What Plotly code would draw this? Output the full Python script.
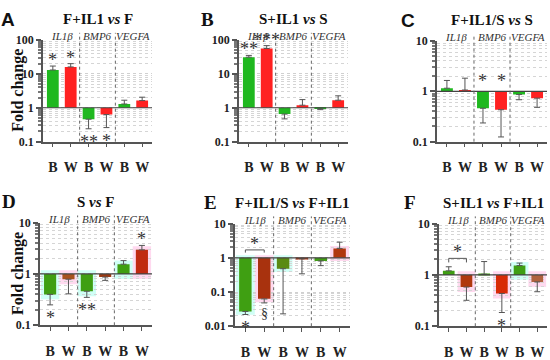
import numpy as np
import plotly.graph_objects as go

# ---------------- data ----------------
categories = ["B", "W", "B", "W", "B", "W"]
genes = ["IL1β", "BMP6", "VEGFA"]

A_val = [13, 16, 0.46, 0.63, 1.29, 1.63]
A_err = [17, 20, 0.24, 0.26, 1.67, 2.05]
A_sig = ["*", "*", "**", "*", "", ""]

B_val = [31, 56, 0.65, 1.19, 0.94, 1.67]
B_err = [35, 68, 0.47, 1.74, 0.88, 2.25]
B_sig = ["**", "***", "", "", "", ""]

C_val = [1.15, 1.06, 0.46, 0.43, 0.865, 0.73]
C_err = [1.64, 1.82, 0.235, 0.124, 0.68, 0.48]
C_sig = ["", "", "*", "*", "", ""]

D_val = [0.40, 0.79, 0.46, 0.87, 1.55, 2.95]
D_err = [0.25, 0.41, 0.35, 0.75, 1.82, 3.6]
D_sig = ["*", "", "**", "", "", "*"]

E_val = [0.027, 0.063, 0.48, 0.94, 0.81, 1.88]
E_err = [0.022, 0.048, 0.023, 0.34, 0.59, 2.86]
E_sig = ["*", "§", "", "", "", ""]

F_val = [1.2, 0.58, 1.03, 0.435, 1.52, 0.73]
F_err = [1.44, 0.32, 1.82, 0.185, 1.7, 0.47]
F_sig = ["", "", "", "*", "", ""]

# ---------------- style / layout ----------------
W, H = 550, 360
SERIF = "Liberation Serif"
SANS = "Liberation Sans"

G1, R1 = "#1fb81f", "#ff2121"
G2, R2 = "#3f9f12", "#a8320e"

panels = [
    dict(letter="A", lfont=SANS, lx=8, title="F+IL1 <i>vs</i> F", vals=A_val, errs=A_err, sig=A_sig,
         px=(43, 152), py=(35, 143), rng=(-1, 2), ticks=[0.1, 1, 10, 100], ytitle=True,
         colors=[G1, R1] * 3, hl=[], sig_base=False, bracket=None),
    dict(letter="B", lfont=SERIF, lx=207, title="S+IL1 <i>vs</i> S", vals=B_val, errs=B_err, sig=B_sig,
         px=(239, 348), py=(35, 143), rng=(-1, 2), ticks=[0.1, 1, 10, 100], ytitle=False,
         colors=[G1, R1] * 3, hl=[], sig_base=False, bracket=None),
    dict(letter="C", lfont=SANS, lx=408, title="F+IL1/S <i>vs</i> S", vals=C_val, errs=C_err, sig=C_sig,
         px=(437, 547), py=(36, 143), rng=(-1, 1), ticks=[0.1, 1, 10], ytitle=False,
         colors=[G1, R1] * 3, hl=[], sig_base=True, bracket=None),
    dict(letter="D", lfont=SERIF, lx=9, title="S <i>vs</i> F", vals=D_val, errs=D_err, sig=D_sig,
         px=(40, 152), py=(229, 338), rng=(-1, 1), ticks=[0.1, 1, 10], ytitle=True,
         colors=[G2, "#a8521e", G2, "#9c3a12", G2, "#c02a10"],
         hl=[0, 1, 2, 4, 5], sig_base=False, bracket=None),
    dict(letter="E", lfont=SERIF, lx=210, title="F+IL1/S <i>vs</i> F+IL1", vals=E_val, errs=E_err, sig=E_sig,
         px=(235, 350), py=(230, 339), rng=(-2, 1), ticks=[0.01, 0.1, 1, 10], ytitle=False,
         colors=[G2, R2, "#5a8a12", R2, G2, "#b0380e"],
         hl=[0, 1, 2, 5], sig_base=False, bracket=1.7),
    dict(letter="F", lfont=SERIF, lx=410, title="S+IL1 <i>vs</i> F+IL1", vals=F_val, errs=F_err, sig=F_sig,
         px=(439, 547), py=(230, 339), rng=(-1, 1), ticks=[0.1, 1, 10], ytitle=False,
         colors=[G2, "#b0380e", G2, "#d82a06", G2, "#b0623e"],
         hl=[1, 3, 4, 5], sig_base=False, bracket=2.1),
]

def fx(p):
    return p / W

def fy(p):
    return 1 - p / H

def fmt(v):
    return ("%g" % v)

fig = go.Figure()
shapes = []
annotations = []

for i, P in enumerate(panels, start=1):
    sfx = "" if i == 1 else str(i)
    xname, yname = "x" + sfx, "y" + sfx
    vals = np.array(P["vals"], float)
    errs = np.array(P["errs"], float)
    xs = list(range(len(categories)))

    up = np.where(vals >= 1, np.maximum(errs - vals, 0), 0)
    dn = np.where(vals < 1, np.maximum(vals - errs, 0), 0)

    # highlight boxes (row 2)
    for k in P["hl"]:
        col = "rgba(150,255,235,0.45)" if k % 2 == 0 else "rgba(255,170,220,0.45)"
        lo = min(vals[k], 1) / 1.25
        hi = max(vals[k], 1) * 1.18
        shapes.append(dict(type="rect", xref=xname, yref=yname, x0=k - 0.5, x1=k + 0.5,
                           y0=lo, y1=hi, fillcolor=col, line=dict(width=0), layer="below"))

    fig.add_trace(go.Bar(
        x=xs, y=list(vals - 1), base=[1] * len(xs), width=0.66,
        marker=dict(color=P["colors"], line=dict(width=0)),
        error_y=dict(type="data", symmetric=False, array=list(up), arrayminus=list(dn),
                     color="#555555", thickness=1, width=3),
        xaxis=xname, yaxis=yname, hoverinfo="skip",
    ))

    x0, x1 = P["px"]
    y0, y1 = P["py"]
    fig.layout["xaxis" + sfx] = dict(
        domain=[fx(x0), fx(x1)], anchor=yname, range=[-0.55, 5.55],
        tickvals=xs, ticktext=categories, ticks="outside", ticklen=4, tickcolor="#555",
        ticklabelstandoff=8,
        showline=True, linecolor="#555", linewidth=1.5, showgrid=False, zeroline=False,
        tickfont=dict(family=SERIF, size=14, color="#222", weight="bold"),
    )
    fig.layout["yaxis" + sfx] = dict(
        domain=[fy(y1), fy(y0)], anchor=xname, type="log", range=list(P["rng"]),
        tickvals=P["ticks"], ticktext=[fmt(t) for t in P["ticks"]],
        ticks="outside", ticklen=5, tickcolor="#555", tickwidth=1.5,
        showline=True, linecolor="#555", linewidth=1.5,
        showgrid=True, gridcolor="#d0d0d0", griddash="dot", gridwidth=1, zeroline=False,
        minor=dict(dtick="D1", ticks="outside", ticklen=3, tickcolor="#777",
                   showgrid=True, gridcolor="#d5d5d5", griddash="dot"),
        tickfont=dict(family=SERIF, size=12, color="#222", weight="bold"),
    )

    # baseline at 1
    shapes.append(dict(type="line", xref=xname + " domain", yref=yname, x0=0, x1=1,
                       y0=1, y1=1, line=dict(color="#444", width=1.2)))
    # group separators
    for sx in (1.5, 3.5):
        shapes.append(dict(type="line", xref=xname, yref=yname + " domain", x0=sx, x1=sx,
                           y0=0, y1=1.07, line=dict(color="#666", width=1, dash="dot")))
    # gene labels
    for g, gx in zip(genes, (0.5, 2.5, 4.5)):
        annotations.append(dict(x=gx, y=1.035, xref=xname, yref=yname + " domain",
                                text="<i>%s</i>" % g, showarrow=False,
                                font=dict(family=SERIF, size=11, color="#333"),
                                xanchor="center", yanchor="middle"))
    # title
    annotations.append(dict(x=fx((x0 + x1) / 2), y=fy(y0 - 22), xref="paper", yref="paper",
                            text="<b>%s</b>" % P["title"], showarrow=False,
                            font=dict(family=SERIF, size=15, color="#111"),
                            xanchor="center", yanchor="middle"))
    # panel letter
    annotations.append(dict(x=fx(P["lx"]), y=fy(y0 - 22), xref="paper", yref="paper",
                            text="<b>%s</b>" % P["letter"], showarrow=False,
                            font=dict(family=P["lfont"], size=19, color="#111"),
                            xanchor="center", yanchor="middle"))
    if P["ytitle"]:
        annotations.append(dict(x=fx(18), y=fy((y0 + y1) / 2), xref="paper", yref="paper",
                                text="<b>Fold change</b>", showarrow=False, textangle=-90,
                                font=dict(family=SERIF, size=16, color="#111"),
                                xanchor="center", yanchor="middle"))
    # significance marks
    for k, s in enumerate(P["sig"]):
        if not s:
            continue
        if P["sig_base"]:
            yv, anch, sh = 1.0, "bottom", -2
        elif vals[k] >= 1:
            yv, anch, sh = errs[k], "bottom", -6
        else:
            yv, anch, sh = errs[k], "top", -1
        fs = 14 if s == "§" else 18
        annotations.append(dict(x=k, y=np.log10(yv), xref=xname, yref=yname, text=s,
                                showarrow=False, yanchor=anch, yshift=sh,
                                font=dict(family=SERIF, size=fs, color="#333")))
    # bracket between B and W of first gene
    if P["bracket"]:
        hb = P["bracket"]
        for (a, b, c, d) in ((0, 1, hb, hb), (0, 0, hb, hb / 1.2), (1, 1, hb, hb / 1.2)):
            shapes.append(dict(type="line", xref=xname, yref=yname, x0=a, x1=b, y0=c, y1=d,
                               line=dict(color="#555", width=1)))
        annotations.append(dict(x=0.5, y=np.log10(hb), xref=xname, yref=yname, text="*",
                                showarrow=False, yanchor="bottom", yshift=-6,
                                font=dict(family=SERIF, size=18, color="#333")))

fig.update_layout(
    width=W, height=H, margin=dict(l=0, r=0, t=0, b=0),
    paper_bgcolor="white", plot_bgcolor="white", showlegend=False,
    barmode="overlay", shapes=shapes, annotations=annotations,
)

fig.write_html("out.html", config={"displayModeBar": False},
               post_script="document.body.style.margin='0';document.body.style.overflow='hidden';")
